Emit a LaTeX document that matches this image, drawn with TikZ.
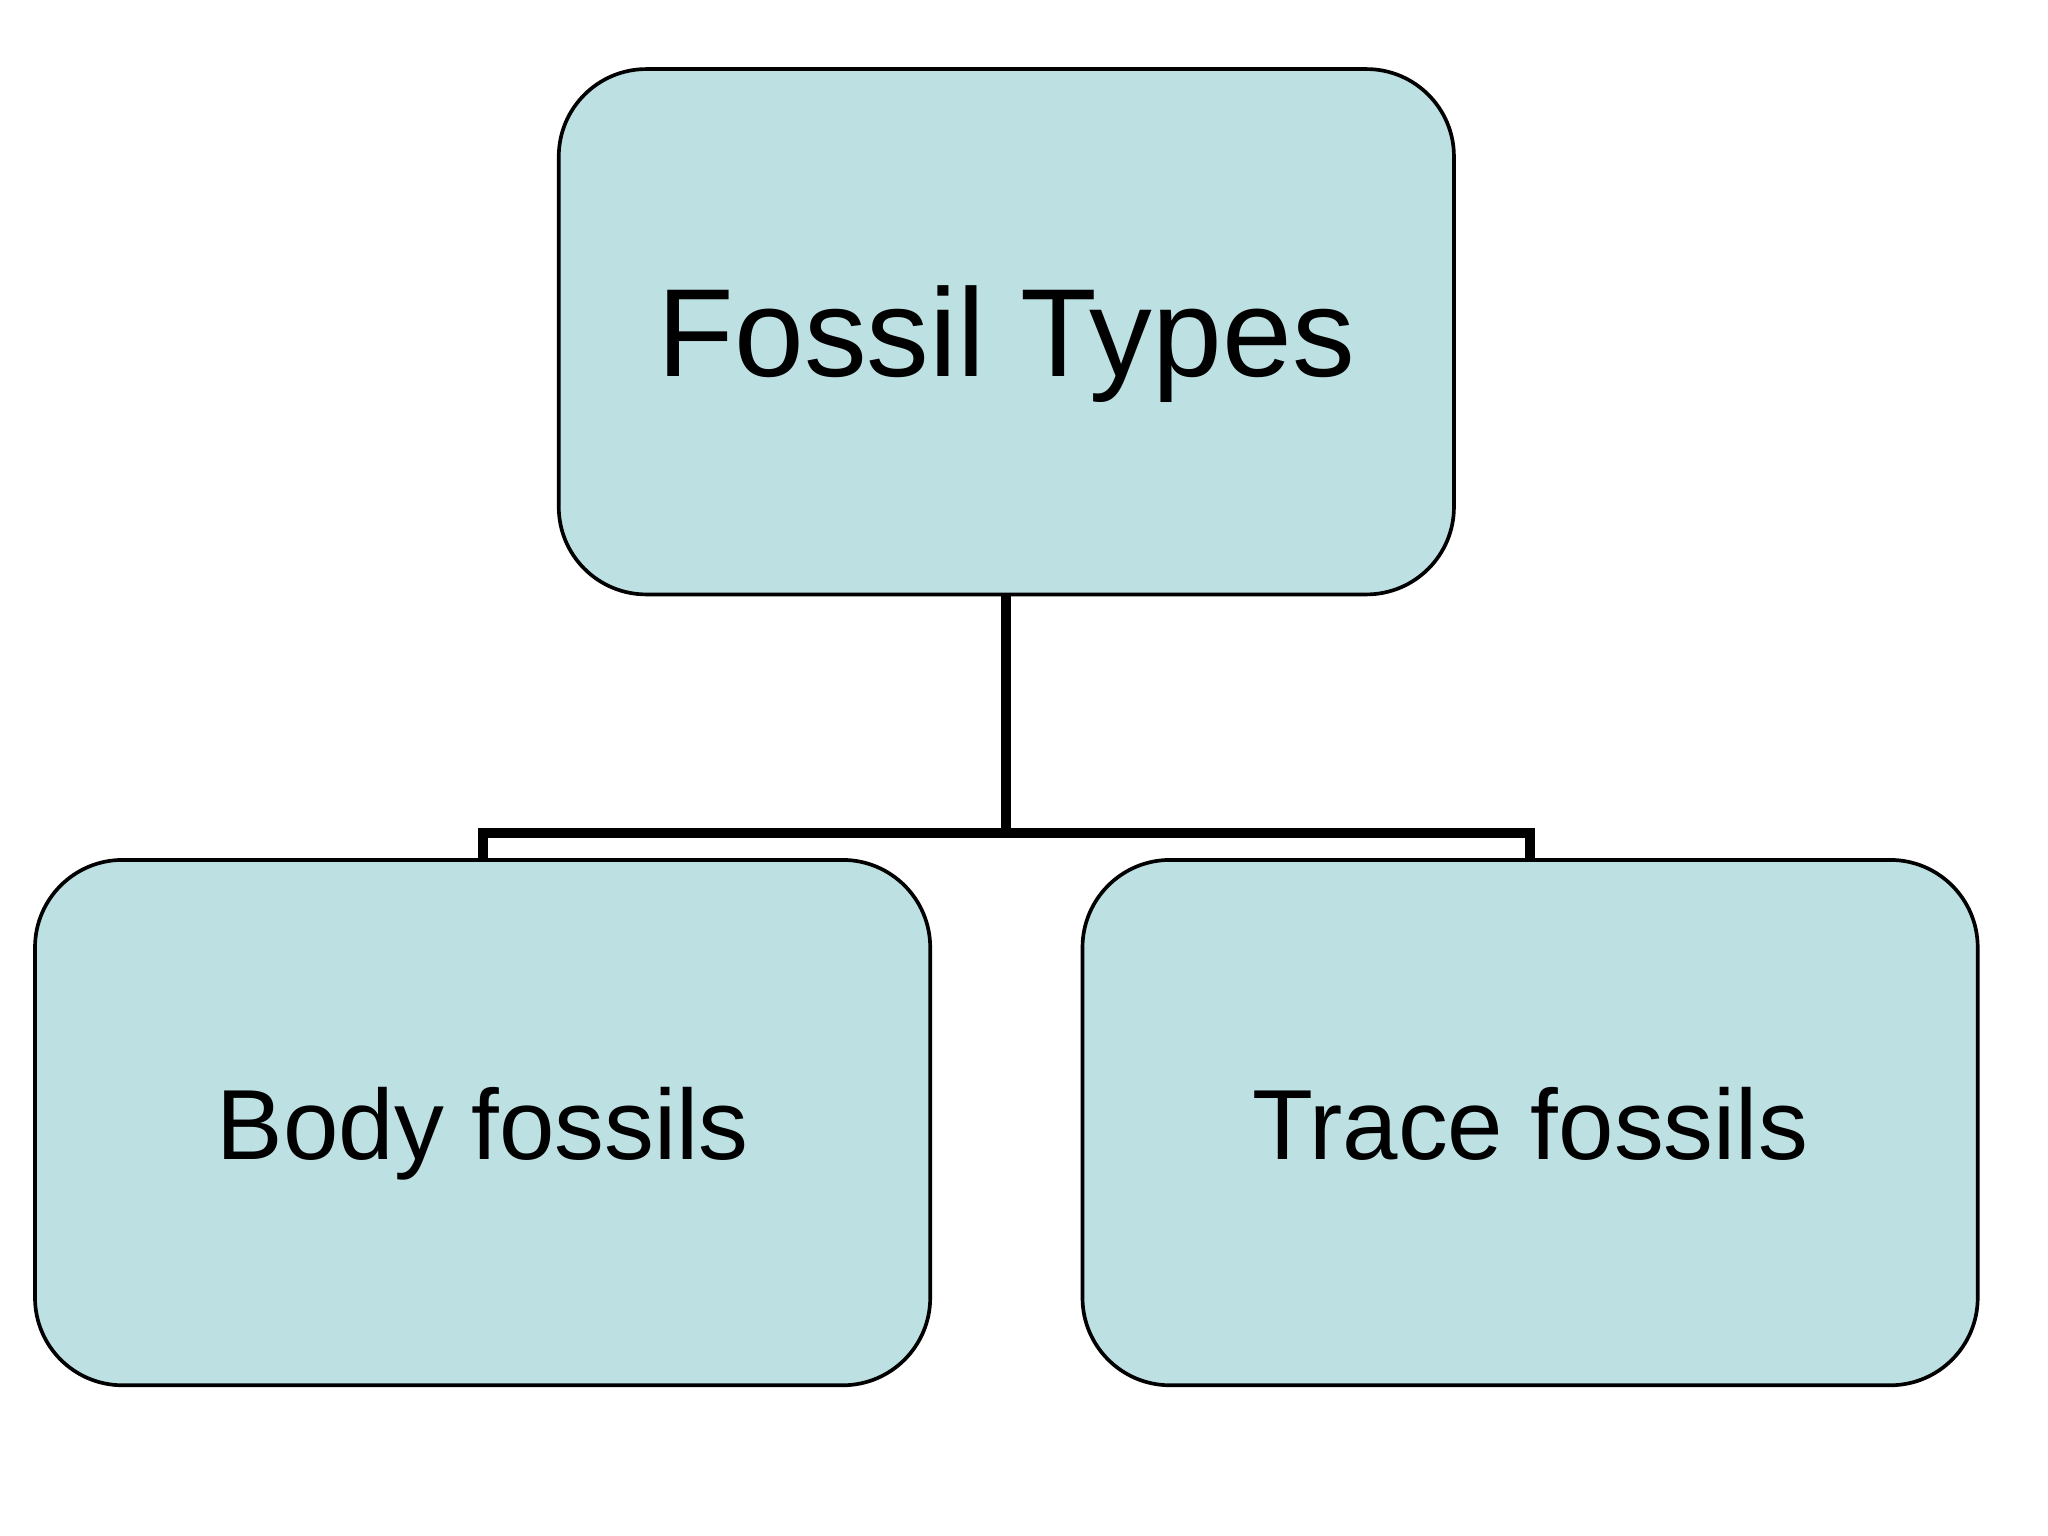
\documentclass[tikz,border=0pt]{standalone}
\usepackage{fontspec}
\setmainfont{Liberation Sans}
\begin{document}
\begin{tikzpicture}[x=0.01cm,y=-0.01cm,
  box/.style={draw=black, line width=0.8pt, fill={rgb,255:red,189;green,224;blue,227}, rounded corners=0.67cm, minimum width=6.85cm, minimum height=4.02cm, inner sep=0pt, text depth=0pt},
  conn/.style={draw=black, line width=2.2pt}]
\fill[white] (0,0) rectangle (1568,1176);
\useasboundingbox (0,0) rectangle (1568,1176);
\node[box, font=\fontsize{27.3}{32}\selectfont, text height=0.68cm] (top) at (770.5,254) {Fossil Types};
\node[box, font=\fontsize{21.7}{27}\selectfont, text height=0.56cm] (body) at (369.5,859.5) {Body fossils};
\node[box, font=\fontsize{21.7}{27}\selectfont, text height=0.56cm] (trace) at (1171.5,859.5) {Trace fossils};
\draw[conn] (top.south) -- ++(0,181) coordinate (mid);
\draw[conn] (body.north) -- (body.north |- mid) -- (trace.north |- mid) -- (trace.north);
\end{tikzpicture}
\end{document}
